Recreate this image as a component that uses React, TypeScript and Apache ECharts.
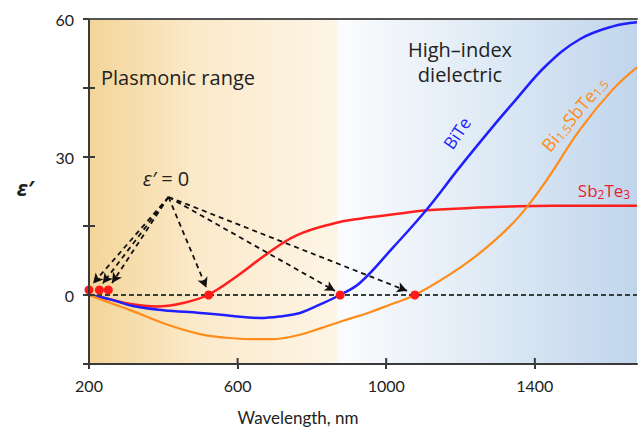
import React, { useEffect, useRef } from 'react';
import * as echarts from 'echarts';

// ---- data ----
const xTickValues = [200, 600, 1000, 1400];
const yTickValues = [-15, 0, 15, 30, 45, 60];
const yLabelValues = [0, 30, 60];

const sbteWl = [200, 250, 300, 380, 450, 520, 600, 680, 760, 856, 929, 1037, 1109, 1250, 1354, 1450, 1550, 1675];
const sbteEps = [0, -0.8, -1.8, -2.5, -1.8, 0, 4.2, 9.0, 13.0, 15.5, 16.6, 17.7, 18.4, 19.0, 19.3, 19.4, 19.4, 19.4];

const biteWl = [200, 260, 318, 400, 499, 580, 660, 720, 768, 821, 875, 929, 1018, 1109, 1198, 1287, 1341, 1432, 1521, 1610, 1675];
const biteEps = [0, -1, -2.4, -3.3, -3.9, -4.5, -5, -4.6, -3.9, -2.1, 0, 2.6, 10.3, 18.6, 27.8, 36.6, 41.7, 50.0, 55.6, 58.4, 59.3];

const bsteWl = [200, 260, 318, 410, 499, 570, 633, 690, 722, 770, 821, 880, 951, 1010, 1077, 1198, 1287, 1359, 1432, 1521, 1610, 1675];
const bsteEps = [0, -1.8, -3.5, -6.4, -8.5, -9.3, -9.6, -9.6, -9.4, -8.6, -7.3, -5.7, -3.9, -2.1, 0, 5.9, 11.5, 17.2, 25, 35.9, 44.7, 49.5];

const zeroWl = [200, 228, 252, 522, 876, 1077];
const zeroEps = [1.1, 1.1, 1.1, 0, 0, 0];

const arrowStart = [414, 21.3];
const arrowEndWl = [211, 237, 262, 516, 862, 1056];
const arrowEndEps = [2.5, 2.5, 2.6, 1.6, 0.9, 0.9];

const plasmonicRange = [200, 870];
const dielectricRange = [870, 1675];

const pairs = (xs: number[], ys: number[]) => xs.map((x, i) => [x, ys[i]]);

const FONT = 'Lato';
const LABEL_FONT = '"Open Sans"';

export default function App() {
  const ref = useRef<HTMLDivElement>(null);
  useEffect(() => {
    if (!ref.current) return;
    const chart = echarts.init(ref.current, null, { renderer: 'svg' });
    const xMin = 200;
    const xMax = 1675;
    const yMin = -15;
    const axisColor = '#3a3a3a';
    const orangeBg = new echarts.graphic.LinearGradient(0, 0, 1, 0, [
      { offset: 0, color: '#f3d598' },
      { offset: 0.45, color: '#fbeacb' },
      { offset: 1, color: '#fdf5e6' },
    ]);
    const blueBg = new echarts.graphic.LinearGradient(0, 0, 1, 0, [
      { offset: 0, color: '#fbfcfd' },
      { offset: 0.45, color: '#e2ecf6' },
      { offset: 1, color: '#c0d5ec' },
    ]);
    const fmt = (v: number) => String(v);
    const tickItem = (horizontal: boolean) => (params: any, api: any) => {
      const p = api.coord([api.value(0), api.value(1)]);
      return {
        type: 'line',
        shape: horizontal
          ? { x1: p[0], y1: p[1], x2: p[0] + 6, y2: p[1] }
          : { x1: p[0], y1: p[1], x2: p[0], y2: p[1] - 6 },
        style: { stroke: axisColor, lineWidth: 2 },
      };
    };
    const option: any = {
      animation: false,
      grid: { left: 89, right: 1, top: 19, bottom: 70, containLabel: false, outerBoundsMode: 'none' },
      xAxis: [
        {
          type: 'value', min: xMin, max: xMax, position: 'bottom', z: 10,
          splitLine: { show: false },
          axisLine: { show: true, onZero: false, lineStyle: { color: axisColor, width: 2 } },
          axisTick: { show: true, length: 5, customValues: xTickValues, lineStyle: { color: axisColor, width: 2 } },
          axisLabel: { customValues: xTickValues, formatter: fmt, margin: 13, fontSize: 16, color: '#222', fontFamily: FONT },
        },
        {
          type: 'value', min: xMin, max: xMax, position: 'top', z: 10,
          splitLine: { show: false },
          axisLine: { show: true, onZero: false, lineStyle: { color: '#555', width: 2 } },
          axisTick: { show: false },
          axisLabel: { show: false },
        },
      ],
      yAxis: [
        {
          type: 'value', min: yMin, max: 60, interval: 15, position: 'left', z: 10,
          splitLine: { show: false },
          axisLine: { show: true, onZero: false, lineStyle: { color: axisColor, width: 2 } },
          axisTick: { show: true, length: 6, customValues: yTickValues, lineStyle: { color: axisColor, width: 2 } },
          axisLabel: { customValues: yLabelValues, formatter: fmt, margin: 15, fontSize: 16, color: '#222', fontFamily: FONT },
        },
      ],
      series: [
        {
          name: 'Sb2Te3', type: 'line', smooth: 0.4, showSymbol: false, z: 3,
          data: pairs(sbteWl, sbteEps),
          lineStyle: { color: '#ff1f1f', width: 2.5 },
          itemStyle: { color: '#ff1f1f' },
          markArea: {
            silent: true,
            data: [
              [{ xAxis: plasmonicRange[0], itemStyle: { color: orangeBg, opacity: 1 } }, { xAxis: plasmonicRange[1] }],
              [{ xAxis: dielectricRange[0], itemStyle: { color: blueBg, opacity: 1 } }, { xAxis: dielectricRange[1] }],
            ],
          },
          markLine: {
            silent: true, symbol: ['none', 'none'],
            label: { show: false },
            lineStyle: { color: '#33403a', type: [5, 3], width: 1.9 },
            data: [{ yAxis: 0 }],
          },
        },
        {
          name: 'BiTe', type: 'line', smooth: 0.4, showSymbol: false, z: 3,
          data: pairs(biteWl, biteEps),
          lineStyle: { color: '#1f1fff', width: 2.5 },
          itemStyle: { color: '#1f1fff' },
        },
        {
          name: 'Bi1.5SbTe1.5', type: 'line', smooth: 0.4, showSymbol: false, z: 3,
          data: pairs(bsteWl, bsteEps),
          lineStyle: { color: '#ff8c1a', width: 2.2 },
          itemStyle: { color: '#ff8c1a' },
        },
        {
          name: 'zeros', type: 'scatter', z: 5, symbolSize: 9,
          data: pairs(zeroWl, zeroEps),
          itemStyle: { color: '#ff1a1a', opacity: 1 },
          markLine: {
            silent: true,
            symbol: ['none', 'arrow'], symbolSize: [8, 10],
            label: { show: false },
            lineStyle: { color: '#111', type: [5, 4], width: 1.8 },
            itemStyle: { color: '#111' },
            data: arrowEndWl.map((x, i) => [
              { coord: arrowStart },
              { coord: [x, arrowEndEps[i]] },
            ]),
          },
        },
        {
          name: 'xInnerTicks', type: 'custom', z: 6, silent: true, clip: false,
          data: xTickValues.map((v) => [v, yMin]),
          renderItem: tickItem(false),
        },
        {
          name: 'yInnerTicks', type: 'custom', z: 6, silent: true, clip: false,
          data: yTickValues.map((v) => [xMin, v]),
          renderItem: tickItem(true),
        },
      ],
      graphic: [
        { type: 'text', z: 100, x: 101, y: 77, style: { text: 'Plasmonic range', font: `20px ${LABEL_FONT}`, fill: '#222', verticalAlign: 'middle' } },
        { type: 'text', z: 100, x: 460, y: 49, style: { text: 'High\u2013index', font: `20px ${LABEL_FONT}`, fill: '#222', align: 'center', verticalAlign: 'middle' } },
        { type: 'text', z: 100, x: 460, y: 74, style: { text: 'dielectric', font: `20px ${LABEL_FONT}`, fill: '#222', align: 'center', verticalAlign: 'middle' } },
        { type: 'text', z: 100, x: 457, y: 133, rotation: 56 * Math.PI / 180, style: { text: 'BiTe', font: `17px ${LABEL_FONT}`, fill: '#1f1fff', align: 'center', verticalAlign: 'middle' } },
        {
          type: 'text', z: 100, x: 574, y: 114, rotation: 50 * Math.PI / 180,
          style: {
            text: 'Bi{s|1.5}SbTe{s|1.5}', font: `18px ${LABEL_FONT}`, fill: '#ff8c1a', align: 'center', verticalAlign: 'middle',
            rich: { s: { fontSize: 12, fontFamily: 'Open Sans', fill: '#ff8c1a', verticalAlign: 'bottom', padding: [8, 0, 0, 0] } },
          },
        },
        {
          type: 'text', z: 100, x: 604, y: 190,
          style: {
            text: 'Sb{s|2}Te{s|3}', font: `17px ${LABEL_FONT}`, fill: '#ee1c2e', align: 'center', verticalAlign: 'middle',
            rich: { s: { fontSize: 12, fontFamily: 'Open Sans', fill: '#ee1c2e', verticalAlign: 'bottom', padding: [8, 0, 0, 0] } },
          },
        },
        {
          type: 'text', z: 100, x: 166, y: 178,
          style: {
            text: '{i|\u03b5\u2032} = 0', font: `20px ${LABEL_FONT}`, fill: '#222', align: 'center', verticalAlign: 'middle',
            rich: { i: { fontStyle: 'italic', fontSize: 20, fontFamily: 'Open Sans', fill: '#222' } },
          },
        },
        { type: 'text', z: 100, x: 25, y: 188, style: { text: '\u03b5\u2032', font: `italic bold 21px ${LABEL_FONT}`, fill: '#222', align: 'center', verticalAlign: 'middle' } },
        { type: 'text', z: 100, x: 298, y: 417, style: { text: 'Wavelength, nm', font: `17px ${FONT}`, fill: '#222', align: 'center', verticalAlign: 'middle' } },
      ],
    };
    chart.setOption(option);
    return () => chart.dispose();
  }, []);
  return <div ref={ref} style={{ position: 'absolute', left: 0, top: 0, width: 638, height: 434, background: '#fff' }} />;
}
